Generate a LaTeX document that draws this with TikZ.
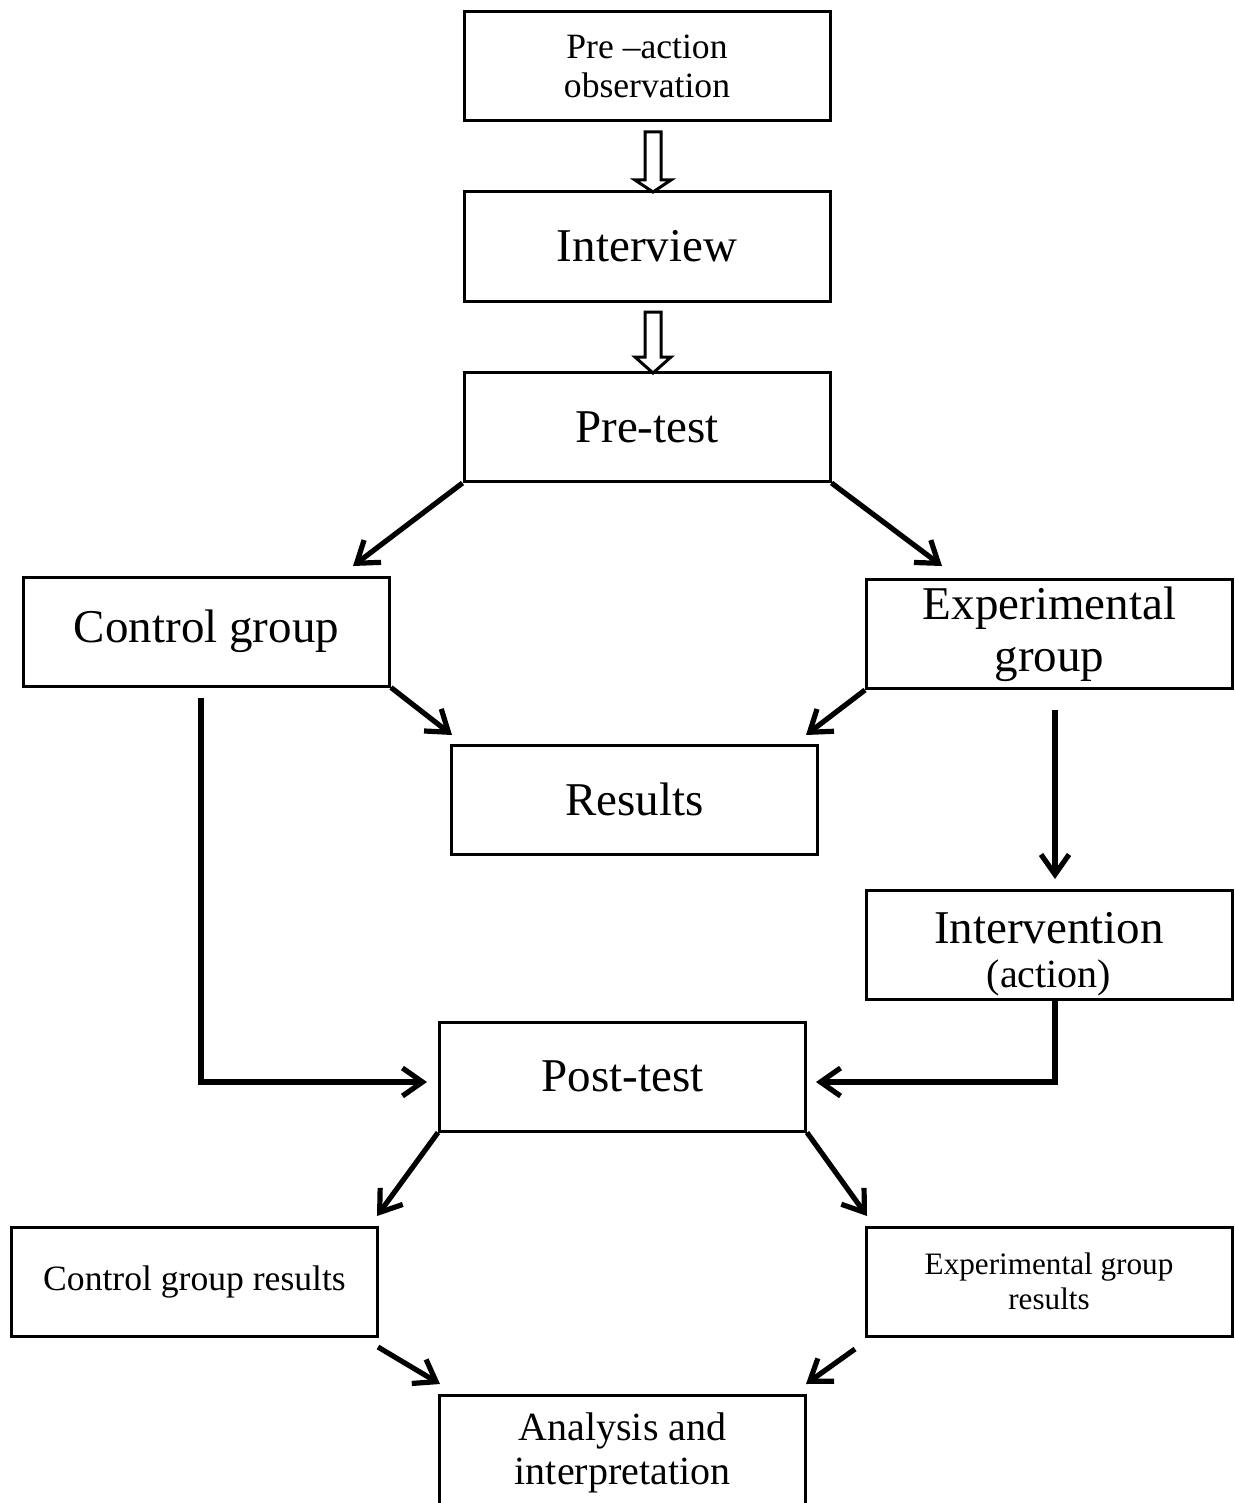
\documentclass[tikz,border=0pt]{standalone}
\usepackage{fontspec}
\setmainfont{Liberation Serif}
\usetikzlibrary{arrows.meta}
\begin{document}
\begin{tikzpicture}[x=0.5pt,y=-0.5pt,
  box/.style={draw, line width=1.5pt, inner sep=0pt, minimum width=183pt, minimum height=54.5pt, align=center},
  big/.style={font=\fontsize{23.5}{25.5}\selectfont},
  mid/.style={font=\fontsize{20}{22}\selectfont},
  small/.style={font=\fontsize{17.8}{19.5}\selectfont},
  tiny/.style={font=\fontsize{15.6}{17.2}\selectfont},
  arr/.style={line width=2.6pt, -{Straight Barb[length=10pt,width=14pt]}},
  hollow/.style={draw, line width=1.5pt, fill=white, line join=miter}]
\useasboundingbox (0,0) rectangle (1235,1503);
% boxes
\node[box, small] (pre) at (647,66.5) {Pre --action\\observation};
\node[box, big] (int) at (647,246.5) {Interview};
\node[box, big] (pt) at (647,427) {Pre-test};
\node[box, big] (cg) at (206.5,631.5) {Control group};
\node[box, font=\fontsize{23.5}{26}\selectfont] (eg) at (1049.5,634) {Experimental\\group};
\node[box, font=\fontsize{23.5}{22}\selectfont] (iv) at (1049,944.5) {\rule{0pt}{25pt}Intervention\\{\fontsize{20}{22}\selectfont (action)}};
\node[box, big] (post) at (622.5,1076.5) {Post-test};
\node[box, small] (cgr) at (194.5,1281.5) {Control group results};
\node[box, tiny] (egr) at (1049,1281.5) {Experimental group\\results};
\node[box, big] (res) at (634.5,799.5) {Results};
\node[box, mid, minimum height=57.5pt] (an) at (622.5,1452.5) {Analysis and\\interpretation};
% hollow arrows
\coordinate (t1) at (653,192);
\coordinate (t2) at (653,373);
\draw[hollow] (t1) -- ++(18,-12) -- ++(-10,0) -- ++(0,-48) -- ++(-16,0) -- ++(0,48) -- ++(-10,0) -- cycle;
\draw[hollow] (t2) -- ++(18,-16) -- ++(-10,0) -- ++(0,-45) -- ++(-16,0) -- ++(0,45) -- ++(-10,0) -- cycle;
% coordinates for free ends
\coordinate (a1) at (353,566);
\coordinate (a2) at (942,566);
\coordinate (a3) at (452,735);
\coordinate (a4) at (806,735);
\coordinate (e1) at (1055,710);
\coordinate (e2) at (1055,879);
\coordinate (c1) at (201,698);
\coordinate (c2) at (427,1082);
\coordinate (i1) at (1055,999);
\coordinate (i2) at (816,1082);
\coordinate (p1) at (377,1216);
\coordinate (p2) at (867,1216);
\coordinate (r1) at (378,1347);
\coordinate (r2) at (440,1384);
\coordinate (r3) at (855,1349);
\coordinate (r4) at (806,1384);
% connectors
\draw[arr] (pt.south west) -- (a1);
\draw[arr] (pt.south east) -- (a2);
\draw[arr] (cg.south east) -- (a3);
\draw[arr] (eg.south west) -- (a4);
\draw[arr] (e1) -- (e2);
\draw[arr] (c1) |- (c2);
\draw[arr] (i1) |- (i2);
\draw[arr] (post.south west) -- (p1);
\draw[arr] (post.south east) -- (p2);
\draw[arr] (r1) -- (r2);
\draw[arr] (r3) -- (r4);
\end{tikzpicture}
\end{document}
